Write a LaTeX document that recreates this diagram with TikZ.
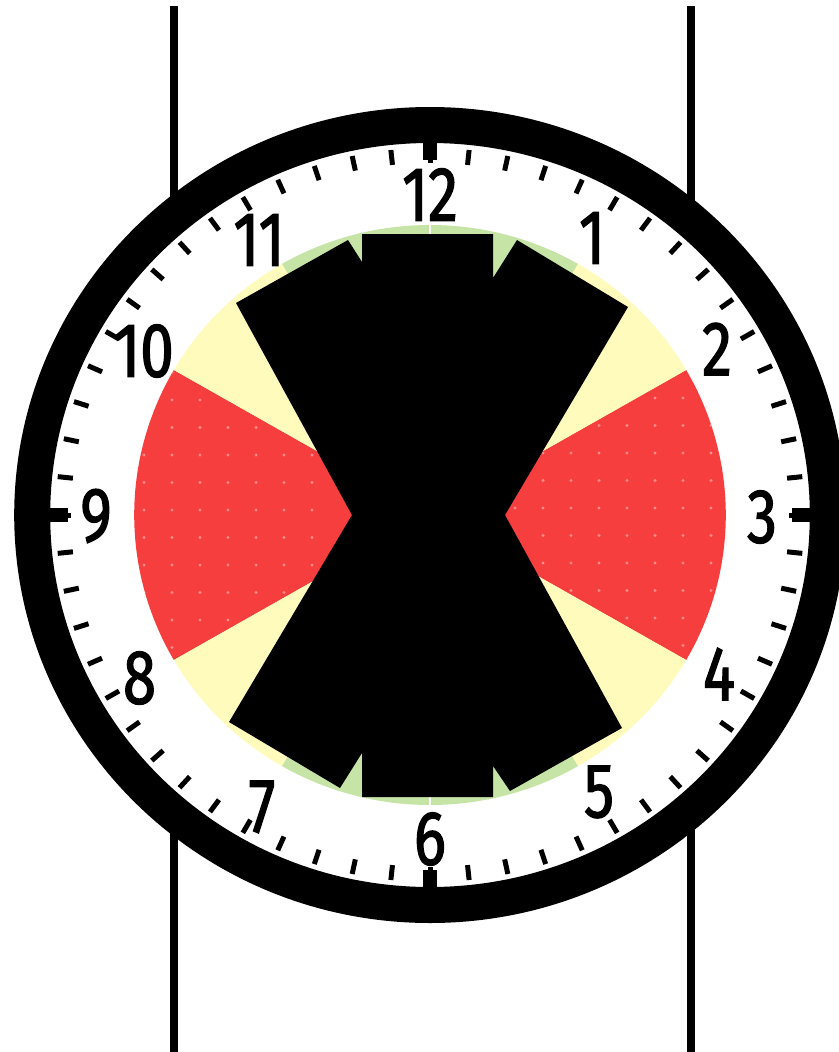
\documentclass[tikz,border=0pt]{standalone}
\usepackage{fontspec}
\newfontfamily\numfont[FakeStretch=0.78,FakeBold=1.6]{Fira Sans}
\definecolor{secred}{RGB}{247,62,62}
\definecolor{secyellow}{RGB}{255,251,189}
\definecolor{secgreen}{RGB}{198,228,166}
\definecolor{dotpink}{RGB}{252,140,140}
\begin{document}
\begin{tikzpicture}[x=1pt,y=-1pt,
  numlabel/.style={font=\numfont\fontsize{77}{77}\selectfont, inner sep=0pt, text=black},
  minortick/.style={line width=5pt},
  majortick/.style={line width=14pt},
  rail/.style={line width=8pt},
  dialface/.style={shift={(430,515)}, xscale=1.02}]
\useasboundingbox (0,0) rectangle (838,1052);
\fill[white] (0,0) rectangle (838,1052);
% rails behind the clock
\coordinate (rl1) at (174,6); \coordinate (rl2) at (174,1052);
\coordinate (rr1) at (691,6); \coordinate (rr2) at (691,1052);
\draw[rail] (rl1) -- (rl2);
\draw[rail] (rr1) -- (rr2);
% dial
\begin{scope}[dialface]
  \fill[white] (0,0) circle (390);
  \draw[line width=36pt] (0,0) circle (390);
  % sectors
  \fill[secred] (0,0) -- (-30:290) arc[start angle=-30, end angle=30, radius=290] -- cycle;
  \fill[secred] (0,0) -- (150:290) arc[start angle=150, end angle=210, radius=290] -- cycle;
  \foreach \s in {30,120,210,300}
    \fill[secyellow] (0,0) -- (\s:290) arc[start angle=\s, end angle=\s+30, radius=290] -- cycle;
  \foreach \s in {60,240}
    \fill[secgreen] (0,0) -- (\s:290) arc[start angle=\s, end angle=\s+60, radius=290] -- cycle;
  \draw[white, line width=1.5pt] (0,0) -- (90:290);
  \draw[white, line width=1.5pt] (0,0) -- (270:290);
  % ticks
  \foreach \a in {0,6,...,354}
    \draw[minortick] (\a:352) -- (\a:367);
  \foreach \a in {0,90,180,270}
    \draw[majortick] (\a:355) -- (\a:378);
\end{scope}
% dots on the red sectors
\begin{scope}
  \clip[dialface] (0,0) -- (150:290) arc[start angle=150, end angle=210, radius=290] -- cycle;
  \foreach \i in {0,...,6}
    \foreach \j in {-6,...,6}
      \fill[dotpink] (144+28*\i, 510+27.5*\j) circle (1.6);
\end{scope}
\begin{scope}
  \clip[dialface] (0,0) -- (-30:290) arc[start angle=-30, end angle=30, radius=290] -- cycle;
  \foreach \i in {0,...,7}
    \foreach \j in {-6,...,6}
      \fill[dotpink] (515+28*\i, 508+27.5*\j) circle (1.6);
\end{scope}
% black hourglass
\fill[black] (362,234) -- (493,234) -- (493,278) -- (517,240) -- (628,307)
  -- (505,515) -- (622,728) -- (510,791) -- (493,766) -- (493,797)
  -- (362,797) -- (362,753) -- (340,788) -- (229,722) -- (352,515)
  -- (236,303) -- (348,240) -- (362,262) -- cycle;
% hour numbers
\node[numlabel] (h12) at (430,194.5) {12};
\node[numlabel] (h1) at (592,238) {1};
\node[numlabel] (h2) at (717,349) {2};
\node[numlabel] (h3) at (762,517) {3};
\node[numlabel] (h4) at (719,674) {4};
\node[numlabel] (h5) at (599,792) {5};
\node[numlabel] (h6) at (430,839) {6};
\node[numlabel] (h7) at (262,807) {7};
\node[numlabel] (h8) at (139.5,678) {8};
\node[numlabel] (h9) at (96,516) {9};
\node[numlabel] (h10) at (144,351) {10};
\node[numlabel] (h11) at (259,240) {11};
\end{tikzpicture}
\end{document}
